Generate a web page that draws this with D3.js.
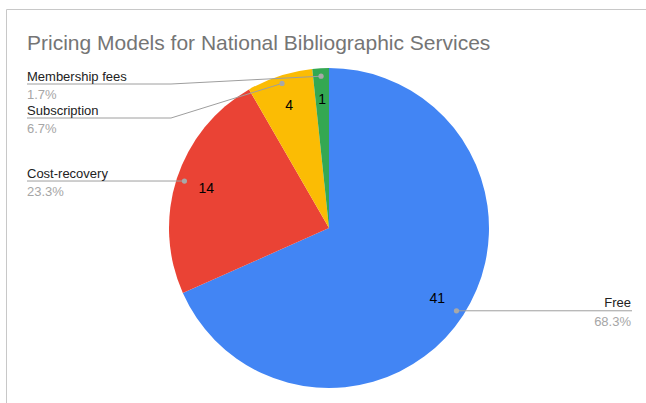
<!DOCTYPE html>
<html><head><meta charset="utf-8">
<script src="https://cdn.jsdelivr.net/npm/d3@7"></script>
<style>html,body{margin:0;padding:0;background:#fff;}svg{display:block;}</style>
</head><body>
<svg id="c" width="646" height="403"></svg>
<script>
const title = "Pricing Models for National Bibliographic Services";
const categories = ["Free", "Cost-recovery", "Subscription", "Membership fees"];
const values = [41, 14, 4, 1];
const colors = ["#4285F4", "#EA4335", "#FBBC04", "#34A853"];

const W = 646, H = 403;
const svg = d3.select("#c");
const font = "Arial, 'Liberation Sans', sans-serif";

// frame
svg.append("path").attr("d", `M6.5,${H} V9.5 H${W}`).attr("fill", "none").attr("stroke", "#c8c8c8").attr("stroke-width", 1);

svg.append("text").attr("x", 27).attr("y", 50).attr("font-family", font).attr("font-size", 21)
  .attr("fill", "#757575").text(title);

const cx = 329, cy = 228, R = 160;
const total = d3.sum(values);
const pie = d3.pie().sort(null).value(d => d)(values);
const arc = d3.arc().innerRadius(0).outerRadius(R);
const g = svg.append("g").attr("transform", `translate(${cx},${cy})`);

g.selectAll("path.s").data(pie).join("path").attr("class", "s")
  .attr("d", arc).attr("fill", (d, i) => colors[i]);

const labelArc = d3.arc().innerRadius(129).outerRadius(129);
g.selectAll("text.v").data(pie).join("text").attr("class", "v")
  .attr("transform", d => `translate(${labelArc.centroid(d)})`)
  .attr("text-anchor", "middle").attr("dy", "0.36em")
  .attr("font-family", font).attr("font-size", 14).attr("fill", "#000")
  .text(d => d.data);

// leader lines
const dotArc = d3.arc().innerRadius(R * 0.95).outerRadius(R * 0.95);
const items = pie.map((d, i) => {
  const c = dotArc.centroid(d);
  const mid = (d.startAngle + d.endAngle) / 2;
  return { i, x: c[0] + cx, y: c[1] + cy, right: mid < Math.PI };
});
const spacing = 34, topMin = cy - R + 16;
const left = items.filter(d => !d.right).sort((a, b) => a.y - b.y);
let prev = -Infinity;
left.forEach(d => { d.ly = Math.max(d.y, prev + spacing, topMin); prev = d.ly; });
items.filter(d => d.right).forEach(d => { d.ly = d.y; });

const fmt = d3.format(".1%");
const lg = svg.append("g");
items.forEach(d => {
  const endX = d.right ? 632 : 27;
  const elbowX = cx - R + 2;
  let pts;
  if (Math.abs(d.ly - d.y) < 0.5) pts = [[d.x, d.y], [endX, d.ly]];
  else pts = [[d.x, d.y], [elbowX, d.ly], [endX, d.ly]];
  lg.append("path").attr("d", d3.line()(pts)).attr("fill", "none")
    .attr("stroke", "#9e9e9e").attr("stroke-width", 1);
  lg.append("circle").attr("cx", d.x).attr("cy", d.y).attr("r", 2.6).attr("fill", "#a8a8a8");
  const tx = d.right ? 631 : 27;
  const anchor = d.right ? "end" : "start";
  lg.append("text").attr("x", tx).attr("y", d.ly - 3.5).attr("text-anchor", anchor)
    .attr("font-family", font).attr("font-size", 13).attr("fill", "#222").text(categories[d.i]);
  lg.append("text").attr("x", tx).attr("y", d.ly + 15).attr("text-anchor", anchor)
    .attr("font-family", font).attr("font-size", 13).attr("fill", "#a6a6a6").text(fmt(values[d.i] / total));
});
</script>
</body></html>
